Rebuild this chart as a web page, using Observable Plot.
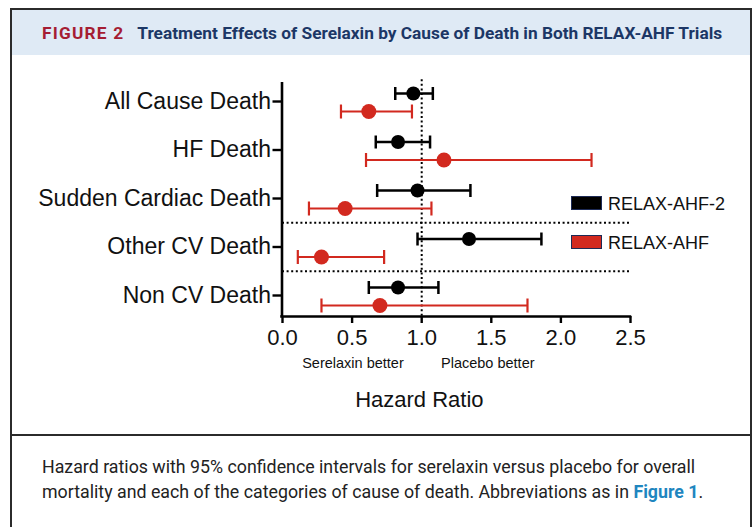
<!DOCTYPE html>
<html>
<head>
<meta charset="utf-8">
<script src="https://cdn.jsdelivr.net/npm/d3@7"></script>
<script src="https://cdn.jsdelivr.net/npm/@observablehq/plot@0.6"></script>
<style>
  html, body { margin: 0; padding: 0; background: #fff; }
  body { width: 755px; height: 527px; position: relative; overflow: hidden; }
  .abs { position: absolute; }
  #frame { left: 10px; top: 8px; width: 742px; height: 540px; border: 2px solid #2b2b2b; border-bottom: none; box-sizing: border-box; z-index: 3; pointer-events: none; }
  #hdr { left: 12px; top: 10px; width: 738px; height: 45px; background: #dfeaf5; z-index: 1; }
  #sep { left: 12px; top: 434px; width: 738px; height: 2px; background: #2b2b2b; z-index: 3; }
  #title { left: 42px; top: 23px; font-family: Roboto, sans-serif; font-weight: 700; font-size: 17.3px; line-height: 20px; white-space: nowrap; z-index: 2; }
  #title .fig { color: #a51d33; letter-spacing: 1.2px; margin-right: 13px; }
  #title .t { color: #1c3766; }
  #caption { left: 42px; top: 454px; width: 705px; font-family: Roboto, sans-serif; font-size: 17.8px; line-height: 25px; color: #222; z-index: 2; white-space: nowrap; }
  #caption b { color: #1f86bf; }
  #chart { left: 0; top: 0; z-index: 2; }
  .lbl { font-family: "Liberation Sans", Arial, sans-serif; color: #111; white-space: nowrap; z-index: 2; transform: translateX(-50%); }
  .leg { font-family: "Liberation Sans", Arial, sans-serif; font-size: 18px; color: #111; white-space: nowrap; z-index: 2; line-height: 18px; }
  .sw { width: 31px; height: 14px; box-sizing: border-box; border: 1px solid #1d2a55; z-index: 2; }
</style>
</head>
<body>
<div id="frame" class="abs"></div>
<div id="hdr" class="abs"></div>
<div id="title" class="abs"><span class="fig">FIGURE 2</span><span class="t">Treatment Effects of Serelaxin by Cause of Death in Both RELAX-AHF Trials</span></div>
<div id="chart" class="abs"></div>
<div id="sep" class="abs"></div>
<div id="caption" class="abs">Hazard ratios with 95% confidence intervals for serelaxin versus placebo for overall<br>mortality and each of the categories of cause of death. Abbreviations as in <b>Figure 1</b>.</div>

<script>
// ---------- data ----------
const categories = ["All Cause Death", "HF Death", "Sudden Cardiac Death", "Other CV Death", "Non CV Death"];
const seriesNames = ["RELAX-AHF-2", "RELAX-AHF"];
const seriesColors = ["#000000", "#d2291f"];
// RELAX-AHF-2 (black)
const relax2HR = [0.94, 0.83, 0.97, 1.34, 0.83];
const relax2Lo = [0.81, 0.67, 0.68, 0.97, 0.62];
const relax2Hi = [1.08, 1.06, 1.35, 1.86, 1.12];
// RELAX-AHF (red)
const relax1HR = [0.62, 1.16, 0.45, 0.28, 0.70];
const relax1Lo = [0.42, 0.60, 0.19, 0.11, 0.28];
const relax1Hi = [0.93, 2.22, 1.07, 0.73, 1.76];
const xTicks = [0, 0.5, 1.0, 1.5, 2.0, 2.5];
const separators = [2.5, 3.5];
const refValue = 1;
const xLabel = "Hazard Ratio";
const leftNote = "Serelaxin better";
const rightNote = "Placebo better";

// ---------- build rows ----------
const rows2 = categories.map((c, i) => ({cat: c, i, hr: relax2HR[i], lo: relax2Lo[i], hi: relax2Hi[i]}));
const rows1 = categories.map((c, i) => ({cat: c, i, hr: relax1HR[i], lo: relax1Lo[i], hi: relax1Hi[i]}));

const xDomain = [0, 2.5];
const yDomain = [-0.392, 4.433];

const capSymbol = {
  draw(context, size) {
    const r = Math.sqrt(size / Math.PI);
    context.moveTo(0, -r);
    context.lineTo(0, r);
  }
};

const font = '"Liberation Sans", Arial, sans-serif';

const plot = Plot.plot({
  width: 755,
  height: 434,
  marginLeft: 282,
  marginRight: 125,
  marginTop: 82,
  marginBottom: 118,
  style: {background: "transparent", fontFamily: font, color: "#111", overflow: "visible"},
  x: {domain: xDomain, range: [282, 630]},
  y: {domain: yDomain, range: [82, 316]},
  marks: [
    // reference dotted line at HR = 1
    Plot.ruleX([refValue], {y1: -0.45, y2: yDomain[1], stroke: "#000", strokeWidth: 2, strokeDasharray: "2,2.6"}),
    // dotted separators
    Plot.ruleY(separators, {x1: xDomain[0], x2: xDomain[1], stroke: "#000", strokeWidth: 2, strokeDasharray: "2,2.6"}),
    // RELAX-AHF-2
    Plot.ruleY(rows2, {y: "i", x1: "lo", x2: "hi", dy: -8, stroke: seriesColors[0], strokeWidth: 2.5}),
    Plot.dot(rows2, {y: "i", x: "lo", dy: -8, symbol: capSymbol, r: 6.5, stroke: seriesColors[0], strokeWidth: 2.5, fill: "none"}),
    Plot.dot(rows2, {y: "i", x: "hi", dy: -8, symbol: capSymbol, r: 6.5, stroke: seriesColors[0], strokeWidth: 2.5, fill: "none"}),
    Plot.dot(rows2, {y: "i", x: "hr", dy: -8, r: 7, fill: seriesColors[0], stroke: "none"}),
    // RELAX-AHF
    Plot.ruleY(rows1, {y: "i", x1: "lo", x2: "hi", dy: 10, stroke: seriesColors[1], strokeWidth: 2.2}),
    Plot.dot(rows1, {y: "i", x: "lo", dy: 10, symbol: capSymbol, r: 7, stroke: seriesColors[1], strokeWidth: 2.2, fill: "none"}),
    Plot.dot(rows1, {y: "i", x: "hi", dy: 10, symbol: capSymbol, r: 7, stroke: seriesColors[1], strokeWidth: 2.2, fill: "none"}),
    Plot.dot(rows1, {y: "i", x: "hr", dy: 10, r: 7.5, fill: seriesColors[1], stroke: "none"}),
    // axes lines
    Plot.ruleX([xDomain[0]], {y1: yDomain[0], y2: yDomain[1], stroke: "#000", strokeWidth: 2.6, dx: -0.5}),
    Plot.ruleY([yDomain[1]], {x1: xDomain[0], x2: xDomain[1], stroke: "#000", strokeWidth: 2.6, insetLeft: -1.8, insetRight: -1.2}),
    // axes
    Plot.axisX({ticks: xTicks, tickFormat: d3.format(".1f"), tickSize: 7, tickPadding: 6, fontSize: 22, strokeWidth: 2.4, label: null, stroke: "#000", fill: "#111"}),
    Plot.axisY({ticks: d3.range(categories.length), tickFormat: (i) => categories[i], tickSize: 9, tickPadding: 2, fontSize: 23, strokeWidth: 2.4, label: null, stroke: "#000", fill: "#111", dx: -0.5})
  ]
});
document.getElementById("chart").appendChild(plot);

// notes, axis label and legend placed relative to the x scale
const xs = plot.scale("x");
function addLabel(text, cx, top, size) {
  const d = document.createElement("div");
  d.className = "abs lbl";
  d.textContent = text;
  d.style.left = cx + "px";
  d.style.top = top + "px";
  d.style.fontSize = size + "px";
  document.body.appendChild(d);
}
addLabel(leftNote, xs.apply(0.51), 355, 14.5);
addLabel(rightNote, xs.apply(0.99) + 68, 355, 14.5);
addLabel(xLabel, xs.apply(0.987), 387, 22);

const legendTops = [196, 235];
seriesNames.forEach((name, k) => {
  const sw = document.createElement("div");
  sw.className = "abs sw";
  sw.style.left = "571px";
  sw.style.top = legendTops[k] + "px";
  sw.style.background = seriesColors[k];
  document.body.appendChild(sw);
  const t = document.createElement("div");
  t.className = "abs leg";
  t.textContent = name;
  t.style.left = "608px";
  t.style.top = (legendTops[k] - 1) + "px";
  document.body.appendChild(t);
});
</script>
</body>
</html>
